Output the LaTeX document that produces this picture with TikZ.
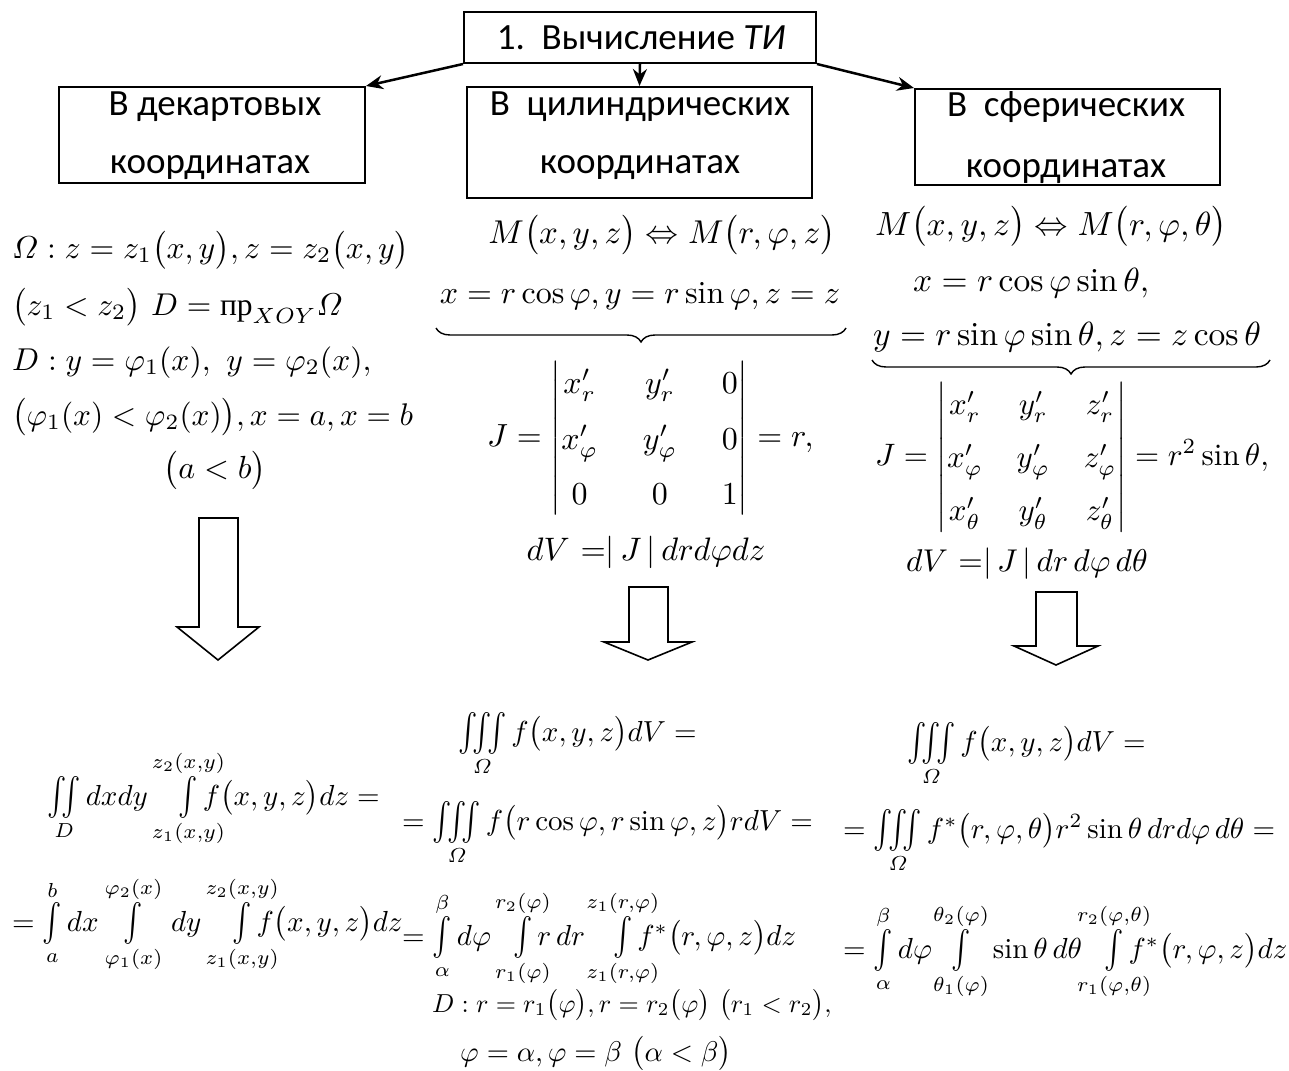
\documentclass[tikz,border=0pt]{standalone}
\usepackage{amsmath}
\usepackage{graphicx}
\usepackage{fontspec}
\newfontfamily\calib{Carlito}
\newfontfamily\tnr{Liberation Serif}
\usetikzlibrary{arrows.meta,decorations.pathreplacing}
\newcommand\FB[1]{\scalebox{2.9}{#1}}
\newcommand\Sint{\mathop{\vcenter{\hbox{\scalebox{1}[1.3]{$\int$}}}}}
\newcommand\Siint{\mathop{\vcenter{\hbox{\scalebox{1}[1.3]{$\iint$}}}}}
\newcommand\Siiint{\mathop{\vcenter{\hbox{\scalebox{1}[1.3]{$\iiint$}}}}}
\newcommand\IL[2]{\Sint\limits_{\makebox[0pt]{$\scriptstyle #1$}}^{\makebox[0pt]{$\scriptstyle #2$}}}
\begin{document}
\begin{tikzpicture}[x=1pt,y=-1pt,
  boxst/.style={draw,line width=2pt,inner sep=0pt},
  lbl/.style={font=\calib\fontsize{37}{44}\selectfont,inner sep=0pt},
  fm/.style={inner sep=0pt},
  conn/.style={line width=2.5pt,-{Stealth[length=17pt,width=14pt]}},
  hollow/.style={draw,line width=1.6pt,line join=miter},
  bracest/.style={decorate,decoration={brace,mirror,amplitude=14pt},line width=1.4pt}]
\useasboundingbox (0,0) rectangle (1289,1070);
\fill[white] (0,0) rectangle (1289,1070);
% boxes
\node[boxst,minimum width=352pt,minimum height=51pt] (top) at (640,37.5) {};
\node[lbl] (toptxt) at (641,38) {1.\ \ Вычисление \textit{ТИ}};
\node[boxst,minimum width=306pt,minimum height=96pt] (lbox) at (212,135) {};
\node[lbl] (l1) at (215,107) {В декартовых};
\node[lbl] (l2) at (210,168) {координатах};
\node[boxst,minimum width=345pt,minimum height=111pt] (mbox) at (639.5,142.5) {};
\node[lbl] (m1) at (640,107) {В\ \ цилиндрических};
\node[lbl] (m2) at (640,168) {координатах};
\node[boxst,minimum width=305pt,minimum height=96pt] (rbox) at (1067.5,137) {};
\node[lbl] (r1) at (1066,107) {В\ \ сферических};
\node[lbl] (r2) at (1066,172) {координатах};
% connectors
\draw[conn] (top.south west) -- (lbox.north east);
\draw[conn] (top.south) -- (mbox.north);
\draw[conn] (top.south east) -- (rbox.north west);
% left top formulas
\node[fm,anchor=base west] (a1) at (12,258) {\scalebox{3.17}{$\varOmega : z = z_1\bigl(x,y\bigr), z = z_2\bigl(x,y\bigr)$}};
\node[fm,anchor=base west] (a2) at (12,315) {\scalebox{3.15}{$\bigl(z_1 < z_2\bigr)\ D = \text{\tnr пр}_{XOY}\varOmega$}};
\node[fm,anchor=base west] (a3) at (12,370) {\scalebox{3.16}{$D : y = \varphi_1(x),\ y = \varphi_2(x),$}};
\node[fm,anchor=base west] (a4) at (12,425) {\scalebox{3.13}{$\bigl(\varphi_1(x) < \varphi_2(x)\bigr), x = a, x = b$}};
\node[fm,anchor=base] (a5) at (215,478) {\scalebox{3.2}{$\bigl(a<b\bigr)$}};
% middle top formulas
\node[fm,anchor=base] (b1) at (662,243) {\scalebox{3.3}{$M\bigl(x,y,z\bigr) \Leftrightarrow M\bigl(r,\varphi,z\bigr)$}};
\node[fm,anchor=base] (b2) at (640,303) {\scalebox{3.2}{$x = r\cos\varphi, y = r\sin\varphi, z = z$}};
\coordinate (b2l) at (436,328);
\coordinate (b2r) at (846,328);
\draw[bracest] (b2l) -- (b2r);
\node[fm,anchor=base west] (b3) at (487,446) {\scalebox{3.2}{\arraycolsep=7pt\renewcommand\arraystretch{1.45}$J = \begin{vmatrix} x'_r & y'_r & 0\\ x'_\varphi & y'_\varphi & 0\\ 0&0&1\end{vmatrix} = r,$}};
\node[fm,anchor=base] (b4) at (646,560) {\scalebox{3.25}{$dV\ {=}|\,J\,|\,drd\varphi dz$}};
% right top formulas
\node[fm,anchor=base] (c1) at (1051,235) {\scalebox{3.35}{$M\bigl(x,y,z\bigr) \Leftrightarrow M\bigl(r,\varphi,\theta\bigr)$}};
\node[fm,anchor=base west] (c2) at (913,291) {\scalebox{3.35}{$x = r\cos\varphi\sin\theta,$}};
\node[fm,anchor=base] (c3) at (1067,345) {\scalebox{3.35}{$y = r\sin\varphi\sin\theta, z = z\cos\theta$}};
\coordinate (c3l) at (872,360);
\coordinate (c3r) at (1270,360);
\draw[bracest] (c3l) -- (c3r);
\node[fm,anchor=base west] (c4) at (875,465) {\scalebox{3.1}{\arraycolsep=5.5pt\renewcommand\arraystretch{1.42}$J = \begin{vmatrix} x'_r & y'_r & z'_r\\ x'_\varphi & y'_\varphi & z'_\varphi\\ x'_\theta & y'_\theta & z'_\theta\end{vmatrix} = r^2\sin\theta,$}};
\node[fm,anchor=base] (c5) at (1027,571) {\scalebox{3.15}{$dV\ {=}|\,J\,|\,dr\,d\varphi\,d\theta$}};
% hollow arrows
\draw[hollow] (199,518) -- (199,627) -- (177,627) -- (218,660) -- (259,627) -- (238,627) -- (238,518) -- cycle;
\draw[hollow] (629,587) -- (629,642) -- (604,642) -- (648,660) -- (692,642) -- (668,642) -- (668,587) -- cycle;
\draw[hollow] (1036,592) -- (1036,646) -- (1014,646) -- (1056,665) -- (1098,646) -- (1077,646) -- (1077,592) -- cycle;
% bottom left
\node[fm,anchor=base west] (d1) at (47,805) {\FB{$\Siint\limits_D dxdy\hspace{0.9em}\IL{z_1(x,y)}{z_2(x,y)} f\bigl(x,y,z\bigr)dz =$}};
\node[fm,anchor=base west] (d2) at (12,931) {\FB{$= \IL{a}{b} dx\hspace{0.7em}\IL{\varphi_1(x)}{\varphi_2(x)}\hspace{0.8em}dy\hspace{0.9em}\IL{z_1(x,y)}{z_2(x,y)} f\bigl(x,y,z\bigr)dz$}};
% bottom middle
\node[fm,anchor=base west] (e1) at (458,741) {\FB{$\Siiint\limits_\varOmega f\bigl(x,y,z\bigr)dV =$}};
\node[fm,anchor=base west] (e2) at (402,830) {\FB{$= \Siiint\limits_\varOmega f\bigl(r\cos\varphi, r\sin\varphi, z\bigr) r dV =$}};
\node[fm,anchor=base west] (e3) at (402,945) {\FB{$= \IL{\alpha}{\beta} d\varphi\hspace{0.6em}\IL{r_1(\varphi)}{r_2(\varphi)} r\,dr\hspace{0.8em}\IL{z_1(r,\varphi)}{z_1(r,\varphi)} f^*\bigl(r,\varphi,z\bigr)dz$}};
\node[fm,anchor=base west,fill=white,inner ysep=1pt] (e4) at (432,1012) {\scalebox{2.6}{$D : r = r_1\bigl(\varphi\bigr), r = r_2\bigl(\varphi\bigr)\ \bigl(r_1 < r_2\bigr),$}};
\node[fm,anchor=base west] (e5) at (460,1061) {\scalebox{2.85}{$\varphi = \alpha, \varphi = \beta\ \bigl(\alpha < \beta\bigr)$}};
% bottom right
\node[fm,anchor=base west] (f1) at (907,751) {\FB{$\Siiint\limits_\varOmega f\bigl(x,y,z\bigr)dV =$}};
\node[fm,anchor=base west] (f2) at (843,838) {\FB{$= \Siiint\limits_\varOmega f^*\bigl(r,\varphi,\theta\bigr) r^2 \sin\theta\, drd\varphi\, d\theta =$}};
\node[fm,anchor=base west] (f3) at (843,958) {\FB{$= \IL{\alpha}{\beta} d\varphi\hspace{0.5em}\IL{\theta_1(\varphi)}{\theta_2(\varphi)}\hspace{0.6em}\sin\theta\, d\theta\hspace{0.6em}\IL{r_1(\varphi,\theta)}{r_2(\varphi,\theta)} f^*\bigl(r,\varphi,z\bigr)dz$}};
\end{tikzpicture}
\end{document}
